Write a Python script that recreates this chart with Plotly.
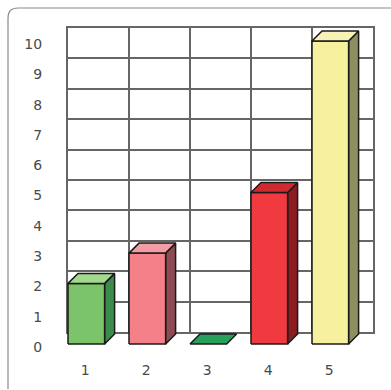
import plotly.graph_objects as go

# ---- data ----
categories = ["1", "2", "3", "4", "5"]
values = [2, 3, 0, 5, 10]
y_ticks = [0, 1, 2, 3, 4, 5, 6, 7, 8, 9, 10]

front_colors = ["#7cc46a", "#f4808a", "#27a05c", "#f03a40", "#f7f09e"]
side_colors = ["#3b8c4c", "#8c4a52", "#1f7a45", "#8c1c20", "#8e8e60"]
top_colors = ["#a3d98e", "#f29ca4", "#27a05c", "#cf2a30", "#f7f2b6"]

W, H = 391, 390
# pixel geometry helpers (layout only)
grid_left, grid_right, grid_top, grid_bottom = 68, 373, 28, 332
px_per_x = (grid_right - grid_left) / len(categories)
front_zero_px, px_per_y = 344, 30.3
bars_left_px, bars_bottom_px = 56, 350

bar_w = 0.6
dx = 10 / px_per_x
dy = 10 / px_per_y
label_drop = 3 / px_per_y  # y tick labels sit slightly below their level

fig = go.Figure()

# empty trace so the grid subplot exists
fig.add_trace(go.Scatter(x=[], y=[], xaxis="x", yaxis="y", hoverinfo="skip"))

for i, (cat, v) in enumerate(zip(categories, values)):
    x0 = (i + 1) - 0.5
    x1 = x0 + bar_w
    line = dict(color="#1a1a1a", width=1.5)
    if v > 0:
        # side face
        fig.add_trace(go.Scatter(
            x=[x1, x1 + dx, x1 + dx, x1, x1],
            y=[0, dy, v + dy, v, 0],
            fill="toself", fillcolor=side_colors[i], mode="lines", line=line,
            xaxis="x2", yaxis="y2", hoverinfo="skip"))
        # front face
        fig.add_trace(go.Scatter(
            x=[x0, x1, x1, x0, x0],
            y=[0, 0, v, v, 0],
            fill="toself", fillcolor=front_colors[i], mode="lines", line=line,
            xaxis="x2", yaxis="y2", hoverinfo="skip"))
    # top face
    fig.add_trace(go.Scatter(
        x=[x0, x1, x1 + dx, x0 + dx, x0],
        y=[v, v, v + dy, v + dy, v],
        fill="toself", fillcolor=top_colors[i], mode="lines", line=line,
        xaxis="x2", yaxis="y2", hoverinfo="skip"))

font = dict(family="DejaVu Sans", size=14, color="#4a4a4a")
grid_col = "#666666"

x2_lo = 0.5 - (grid_left - bars_left_px) / px_per_x
x2_hi = 0.5 + (W - grid_left) / px_per_x
y2_lo = (front_zero_px - bars_bottom_px) / px_per_y
y2_hi = front_zero_px / px_per_y

fig.update_layout(
    width=W, height=H,
    margin=dict(l=0, r=0, t=0, b=0, autoexpand=False),
    paper_bgcolor="white",
    plot_bgcolor="rgba(0,0,0,0)",
    showlegend=False,
    hovermode=False,
    xaxis=dict(
        domain=[grid_left / W, grid_right / W], anchor="y", automargin=False,
        range=[0.5, 0.5 + len(categories)], tick0=0.5, dtick=1,
        showgrid=True, gridcolor=grid_col, gridwidth=1.8,
        showline=True, mirror=True, linecolor=grid_col, linewidth=1.8,
        showticklabels=False, ticks="", zeroline=False, fixedrange=True),
    yaxis=dict(
        domain=[1 - grid_bottom / H, 1 - grid_top / H], anchor="x", automargin=False,
        range=[0, 10], tick0=0, dtick=1,
        showgrid=True, gridcolor=grid_col, gridwidth=1.8,
        showline=True, mirror=True, linecolor=grid_col, linewidth=1.8,
        showticklabels=False, ticks="", zeroline=False, fixedrange=True),
    xaxis2=dict(
        domain=[bars_left_px / W, 1], anchor="y2", automargin=False,
        range=[x2_lo, x2_hi],
        tickvals=[k + 1 - 0.22 for k in range(len(categories))],
        ticktext=categories,
        ticks="outside", ticklen=7, tickcolor="rgba(0,0,0,0)",
        showgrid=False, zeroline=False, showline=False,
        tickfont=font, fixedrange=True),
    yaxis2=dict(
        domain=[1 - bars_bottom_px / H, 1], anchor="x2", automargin=False,
        range=[y2_lo, y2_hi],
        tickvals=[t - label_drop for t in y_ticks],
        ticktext=[str(t) for t in y_ticks],
        ticks="outside", ticklen=10, tickcolor="rgba(0,0,0,0)",
        showgrid=False, zeroline=False, showline=False,
        tickfont=font, fixedrange=True),
)

# outer rounded frame (cropped on the right and bottom)
def px(xp):
    return xp / W

def py(yp):
    return 1 - yp / H

path = (f"M {px(8)},{py(389)} L {px(8)},{py(18)} "
        f"Q {px(8)},{py(8)} {px(18)},{py(8)} L {px(391)},{py(8)}")
fig.add_shape(type="path", path=path, xref="paper", yref="paper",
              line=dict(color="#8a8a8a", width=1.2))

fig.write_html("out.html")
